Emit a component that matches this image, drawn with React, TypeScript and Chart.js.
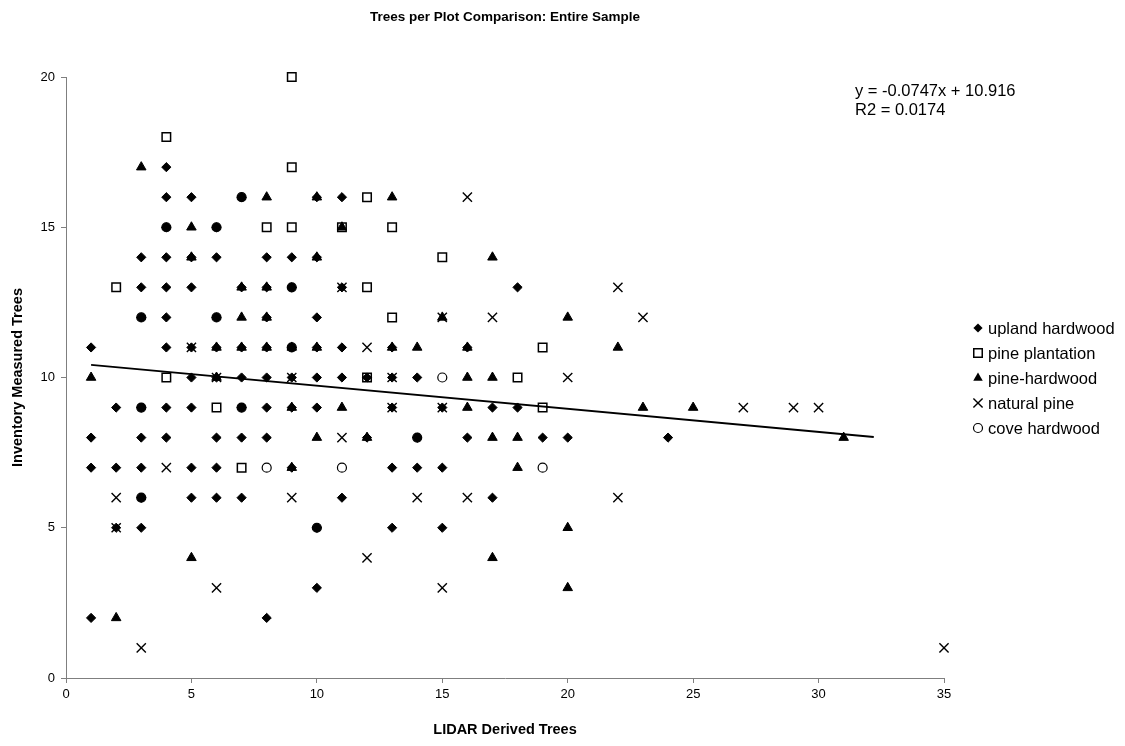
import React, { useEffect, useRef } from "react";
import { Chart, registerables } from "chart.js";

Chart.register(...registerables);

type Pair = [number, number];

const chartTitle = "Trees per Plot Comparison: Entire Sample";
const xAxisTitle = "LIDAR Derived Trees";
const yAxisTitle = "Inventory Measured Trees";

const seriesNames = [
  "upland hardwood",
  "pine plantation",
  "pine-hardwood",
  "natural pine",
  "cove hardwood",
];

// [LIDAR derived trees, inventory measured trees]
const uplandHardwood: Pair[] = [
  [4, 17],
  [4, 16], [5, 16], [7, 16], [10, 16], [11, 16],
  [4, 15], [6, 15],
  [3, 14], [4, 14], [5, 14], [6, 14], [8, 14], [9, 14], [10, 14],
  [3, 13], [4, 13], [5, 13], [7, 13], [8, 13], [9, 13], [11, 13], [18, 13],
  [3, 12], [4, 12], [6, 12], [8, 12], [10, 12],
  [1, 11], [4, 11], [5, 11], [6, 11], [7, 11], [8, 11], [9, 11], [10, 11], [11, 11], [13, 11], [16, 11],
  [5, 10], [6, 10], [7, 10], [8, 10], [9, 10], [10, 10], [11, 10], [12, 10], [13, 10], [14, 10],
  [2, 9], [3, 9], [4, 9], [5, 9], [7, 9], [8, 9], [9, 9], [10, 9], [13, 9], [15, 9], [17, 9], [18, 9],
  [1, 8], [3, 8], [4, 8], [6, 8], [7, 8], [8, 8], [12, 8], [14, 8], [16, 8], [19, 8], [20, 8], [24, 8],
  [1, 7], [2, 7], [3, 7], [5, 7], [6, 7], [9, 7], [13, 7], [14, 7], [15, 7],
  [3, 6], [5, 6], [6, 6], [7, 6], [11, 6], [17, 6],
  [2, 5], [3, 5], [10, 5], [13, 5], [15, 5],
  [10, 3],
  [1, 2], [8, 2],
];

const pinePlantation: Pair[] = [
  [9, 20], [4, 18], [9, 17], [12, 16],
  [8, 15], [9, 15], [11, 15], [13, 15], [15, 14],
  [2, 13], [12, 13], [13, 12], [19, 11],
  [4, 10], [12, 10], [18, 10], [6, 9], [19, 9], [7, 7],
];

const pineHardwood: Pair[] = [
  [3, 17], [8, 16], [10, 16], [13, 16], [5, 15], [11, 15],
  [5, 14], [10, 14], [17, 14], [7, 13], [8, 13],
  [7, 12], [8, 12], [15, 12], [20, 12],
  [6, 11], [7, 11], [8, 11], [9, 11], [10, 11], [13, 11], [14, 11], [16, 11], [22, 11],
  [1, 10], [6, 10], [16, 10], [17, 10],
  [9, 9], [11, 9], [16, 9], [23, 9], [25, 9],
  [10, 8], [12, 8], [17, 8], [18, 8], [31, 8],
  [9, 7], [18, 7], [20, 5], [5, 4], [17, 4], [20, 3], [2, 2],
];

const naturalPine: Pair[] = [
  [16, 16], [11, 13], [22, 13], [15, 12], [17, 12], [23, 12],
  [5, 11], [12, 11], [6, 10], [9, 10], [13, 10], [20, 10],
  [13, 9], [15, 9], [27, 9], [29, 9], [30, 9], [11, 8], [4, 7],
  [2, 6], [9, 6], [14, 6], [16, 6], [22, 6], [2, 5], [12, 4],
  [6, 3], [15, 3], [3, 1], [35, 1],
];

const coveHardwood: Pair[] = [
  [7, 16], [4, 15], [6, 15], [9, 13], [3, 12], [6, 12], [9, 11],
  [15, 10], [3, 9], [7, 9], [14, 8], [8, 7], [11, 7], [19, 7],
  [3, 6], [10, 5],
];

// fitted line, start and end
const trendLine: Pair[] = [
  [1, 10.42],
  [32.2, 8.02],
];

const equationText = ["y = -0.0747x + 10.916", "R2 = 0.0174"];

const xTickValues = [0, 5, 10, 15, 20, 25, 30, 35];
const yTickValues = [0, 5, 10, 15, 20];

const FONT = "'Liberation Sans', Arial, Helvetica, sans-serif";
const AXIS_GREY = "#7f7f7f";

const toPoints = (pairs: Pair[]) => pairs.map(([x, y]) => ({ x, y }));

// Markers of each series, shared by plotted points and the legend
const markerStyles = [
  { pointStyle: "rectRot", radius: 4.6, fill: "#000", stroke: "#000", width: 1 },
  { pointStyle: "rect", radius: 6, fill: "rgba(0,0,0,0)", stroke: "#000", width: 1.5 },
  { pointStyle: "triangle", radius: 5.5, fill: "#000", stroke: "#000", width: 1 },
  { pointStyle: "crossRot", radius: 6.5, fill: "#000", stroke: "#000", width: 1.4 },
  { pointStyle: "circle", radius: 4.5, fill: "#fff", stroke: "#000", width: 1.2 },
];

const uplandKeys = new Set(uplandHardwood.map(([x, y]) => `${x},${y}`));

function drawMarker(ctx: CanvasRenderingContext2D, idx: number, cx: number, cy: number) {
  const s = markerStyles[idx];
  const r = s.radius;
  ctx.save();
  ctx.fillStyle = s.fill;
  ctx.strokeStyle = s.stroke;
  ctx.lineWidth = s.width;
  ctx.beginPath();
  if (s.pointStyle === "rectRot") {
    ctx.moveTo(cx, cy - r);
    ctx.lineTo(cx + r, cy);
    ctx.lineTo(cx, cy + r);
    ctx.lineTo(cx - r, cy);
    ctx.closePath();
    ctx.fill();
  } else if (s.pointStyle === "rect") {
    const h = r * Math.SQRT1_2;
    ctx.rect(cx - h, cy - h, 2 * h, 2 * h);
    ctx.stroke();
  } else if (s.pointStyle === "triangle") {
    const a = (r * 3) / Math.sqrt(3);
    const h = (a * Math.sqrt(3)) / 2;
    ctx.moveTo(cx - a / 2, cy + h / 3);
    ctx.lineTo(cx + a / 2, cy + h / 3);
    ctx.lineTo(cx, cy - (2 * h) / 3);
    ctx.closePath();
    ctx.fill();
  } else if (s.pointStyle === "crossRot") {
    const d = r * Math.SQRT1_2;
    ctx.moveTo(cx - d, cy - d);
    ctx.lineTo(cx + d, cy + d);
    ctx.moveTo(cx - d, cy + d);
    ctx.lineTo(cx + d, cy - d);
    ctx.stroke();
  } else {
    ctx.arc(cx, cy, r, 0, Math.PI * 2);
    ctx.fillStyle = "#fff";
    ctx.fill();
    ctx.stroke();
  }
  ctx.restore();
}

// Title, axis titles, equation text and legend, drawn around the plot area
const decorations = {
  id: "decorations",
  afterDraw(chart: Chart) {
    const ctx = chart.ctx;
    const area = chart.chartArea;
    const midX = (area.left + area.right) / 2;
    ctx.save();
    ctx.fillStyle = "#000";
    ctx.textBaseline = "middle";

    ctx.font = `bold 13.5px ${FONT}`;
    ctx.textAlign = "center";
    ctx.fillText(chartTitle, midX, 17);

    ctx.font = `bold 14.5px ${FONT}`;
    ctx.fillText(xAxisTitle, midX, 730);

    ctx.save();
    ctx.translate(18, (area.top + area.bottom) / 2);
    ctx.rotate(-Math.PI / 2);
    ctx.fillText(yAxisTitle, 0, 0);
    ctx.restore();

    ctx.font = `16.5px ${FONT}`;
    ctx.textAlign = "left";
    equationText.forEach((line, i) => ctx.fillText(line, 855, 91 + i * 19));

    seriesNames.forEach((name, i) => {
      const y = 328 + i * 25;
      drawMarker(ctx, i, 978, y);
      ctx.fillStyle = "#000";
      ctx.fillText(name, 988, y + 1);
    });
    ctx.restore();
  },
};

export default function App() {
  const canvasRef = useRef<HTMLCanvasElement | null>(null);

  useEffect(() => {
    document.body.style.margin = "0";
    const canvas = canvasRef.current;
    if (!canvas) return;

    const seriesData = [uplandHardwood, pinePlantation, pineHardwood, naturalPine, coveHardwood];

    const scatterSets = seriesData.map((pairs, i) => {
      const s = markerStyles[i];
      return {
        type: "scatter" as const,
        label: seriesNames[i],
        data: toPoints(pairs),
        // first series sits at the bottom of the stack
        order: 10 - i,
        clip: false,
        pointStyle: s.pointStyle,
        pointRadius: s.radius,
        pointHoverRadius: s.radius,
        pointBorderWidth: s.width,
        pointBorderColor: s.stroke,
        pointBackgroundColor:
          i === 4
            ? (c: any) => {
                const p = c.raw as { x: number; y: number } | undefined;
                return p && uplandKeys.has(`${p.x},${p.y}`) ? "#000" : "#fff";
              }
            : s.fill,
        showLine: false,
      };
    });

    const chart = new Chart(canvas, {
      type: "scatter",
      data: {
        datasets: [
          ...scatterSets,
          {
            type: "line" as const,
            label: "trend",
            data: toPoints(trendLine),
            order: 0,
            borderColor: "#000",
            borderWidth: 2,
            pointRadius: 0,
            fill: false,
            showLine: true,
          },
        ] as any,
      },
      options: {
        animation: false,
        responsive: false,
        events: [],
        layout: { padding: { top: 77, right: 181, bottom: 0, left: 0 } },
        plugins: {
          legend: { display: false },
          title: { display: false },
          tooltip: { enabled: false },
        },
        scales: {
          x: {
            type: "linear",
            min: 0,
            max: 35,
            afterFit: (scale: any) => {
              scale.height = 68;
            },
            afterBuildTicks: (scale: any) => {
              scale.ticks = xTickValues.map((v) => ({ value: v }));
            },
            ticks: {
              color: "#000",
              font: { family: FONT, size: 13 },
              padding: 4,
              maxRotation: 0,
            },
            grid: {
              drawOnChartArea: false,
              drawTicks: true,
              tickLength: 5,
              color: AXIS_GREY,
            },
            border: { display: true, color: AXIS_GREY, width: 1 },
          },
          y: {
            type: "linear",
            min: 0,
            max: 20,
            afterFit: (scale: any) => {
              scale.width = 66;
            },
            afterBuildTicks: (scale: any) => {
              scale.ticks = yTickValues.map((v) => ({ value: v }));
            },
            ticks: {
              color: "#000",
              font: { family: FONT, size: 13 },
              padding: 6,
            },
            grid: {
              drawOnChartArea: false,
              drawTicks: true,
              tickLength: 5,
              color: AXIS_GREY,
            },
            border: { display: true, color: AXIS_GREY, width: 1 },
          },
        },
      },
      plugins: [decorations],
    });

    return () => chart.destroy();
  }, []);

  return (
    <div style={{ width: 1125, height: 746 }}>
      <canvas ref={canvasRef} width={1125} height={746} style={{ display: "block" }} />
    </div>
  );
}
